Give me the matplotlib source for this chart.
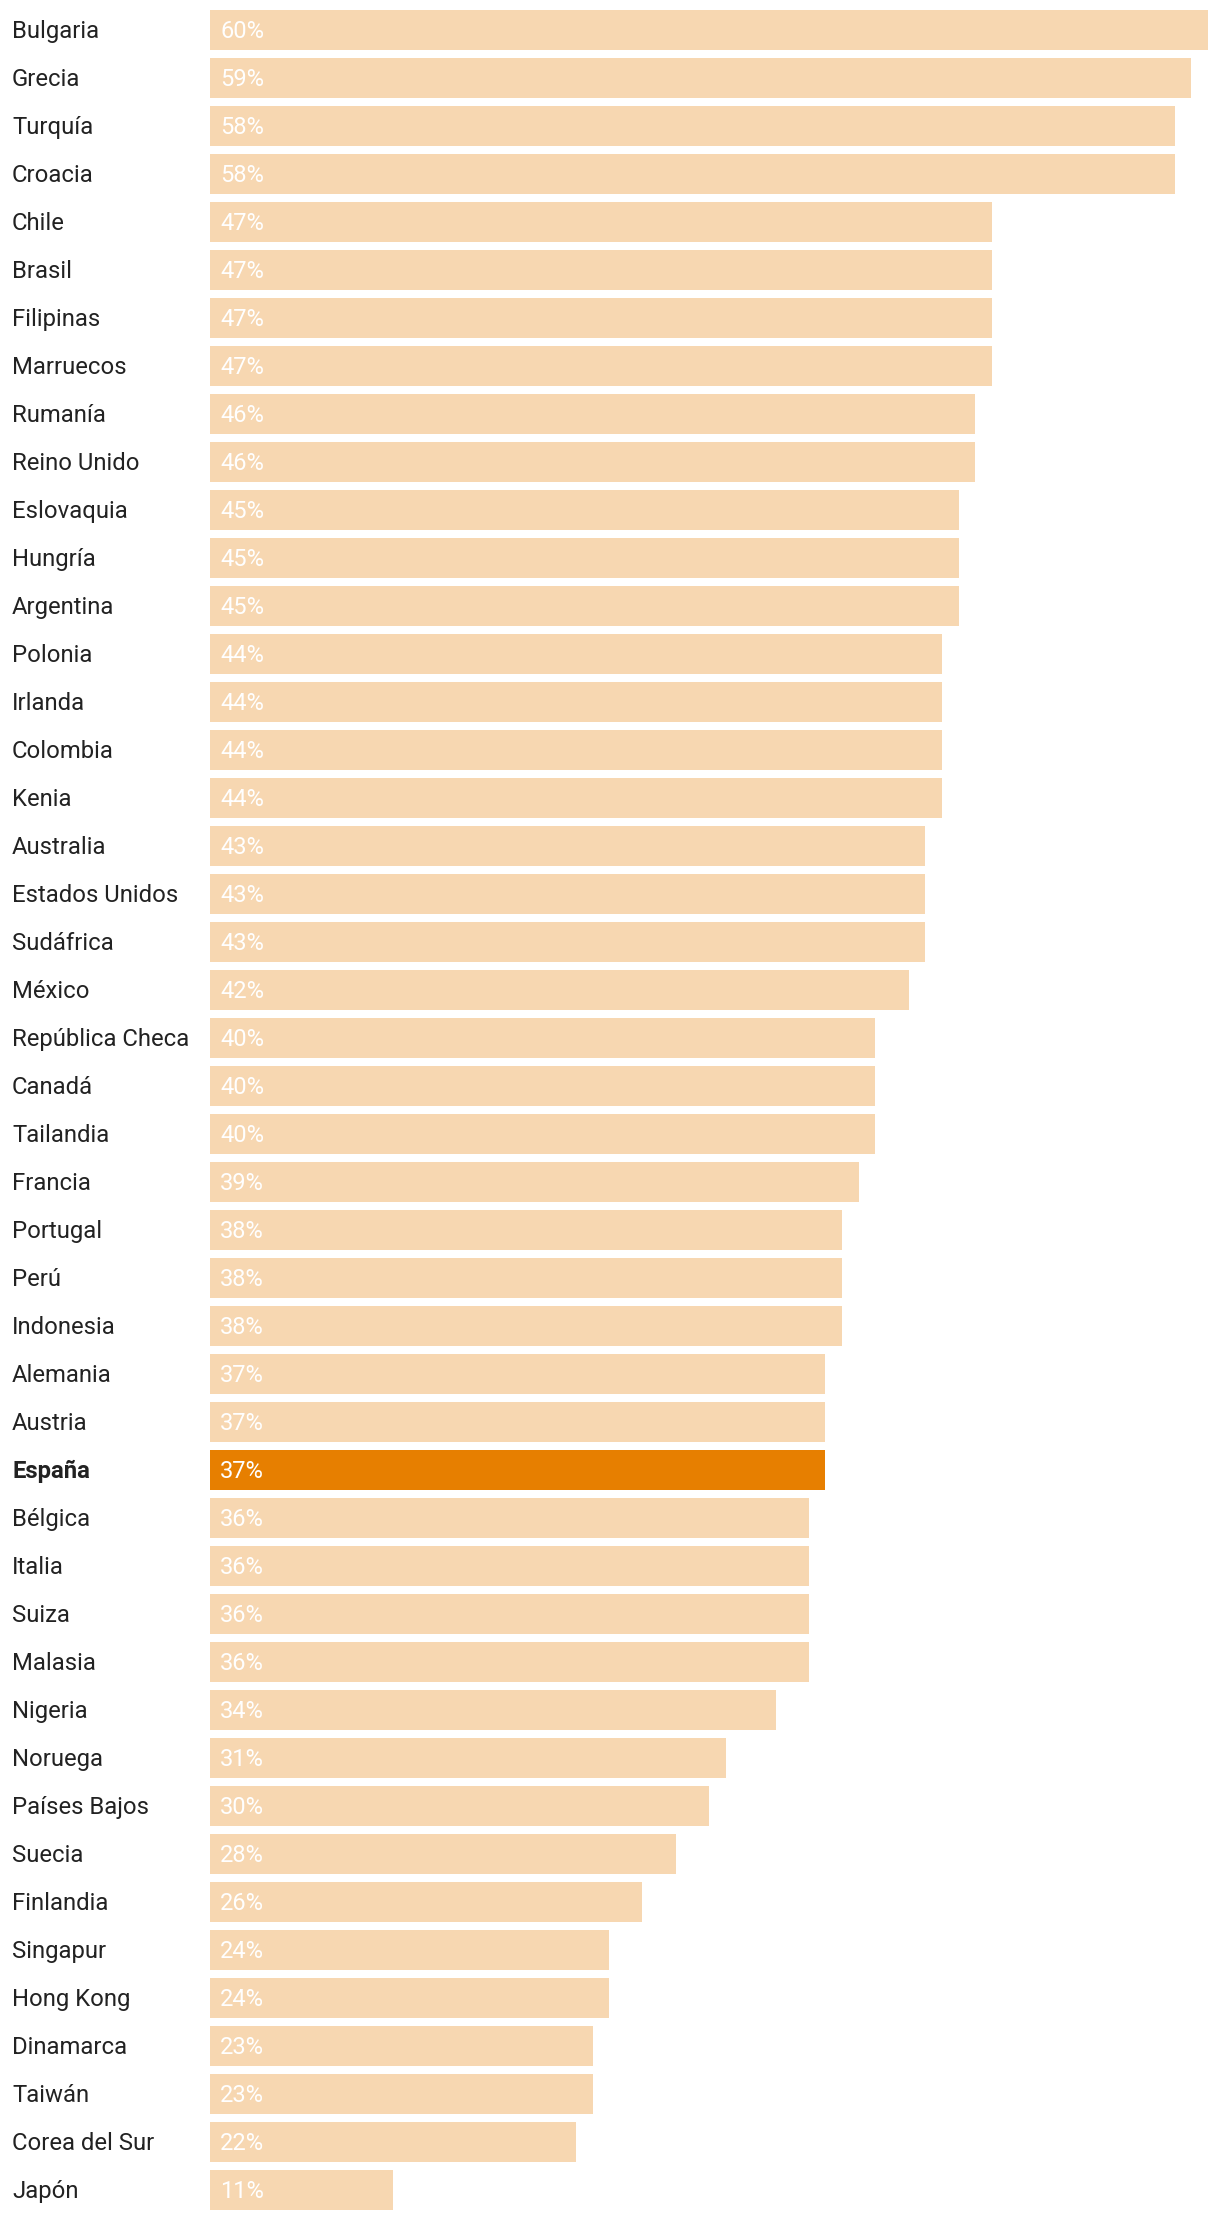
import matplotlib
matplotlib.use("Agg")
import matplotlib.pyplot as plt
import matplotlib.transforms as mtransforms

# Porcentajes por país, de mayor a menor
paises = ["Bulgaria", "Grecia", "Turquía", "Croacia", "Chile", "Brasil",
          "Filipinas", "Marruecos", "Rumanía", "Reino Unido", "Eslovaquia",
          "Hungría", "Argentina", "Polonia", "Irlanda", "Colombia", "Kenia",
          "Australia", "Estados Unidos", "Sudáfrica", "México",
          "República Checa", "Canadá", "Tailandia", "Francia", "Portugal",
          "Perú", "Indonesia", "Alemania", "Austria", "España", "Bélgica",
          "Italia", "Suiza", "Malasia", "Nigeria", "Noruega", "Países Bajos",
          "Suecia", "Finlandia", "Singapur", "Hong Kong", "Dinamarca",
          "Taiwán", "Corea del Sur", "Japón"]
valores = [60, 59, 58, 58, 47, 47, 47, 47, 46, 46, 45, 45, 45, 44, 44, 44, 44,
           43, 43, 43, 42, 40, 40, 40, 39, 38, 38, 38, 37, 37, 37, 36, 36, 36,
           36, 34, 31, 30, 28, 26, 24, 24, 23, 23, 22, 11]
destacado = "España"

plt.rcParams['font.family'] = ['Roboto', 'DejaVu Sans']

W, H = 1220, 2220
fig = plt.figure(figsize=(W / 100, H / 100), dpi=100)
left_px = 210
ax = fig.add_axes([left_px / W, 0, (W - left_px) / W, 1])

px_per_unit = 998 / 60
ax.set_xlim(0, (W - left_px) / px_per_unit)
ax.set_ylim((H - 30) / 48, -30 / 48)
ax.axis("off")

ys = list(range(len(paises)))
colores = ["#E77F00" if p == destacado else "#F7D7B1" for p in paises]
ax.barh(ys, valores, height=40 / 48, color=colores, left=0)

trans = mtransforms.blended_transform_factory(fig.transFigure, ax.transData)
for y, p, v in zip(ys, paises, valores):
    ax.text(12 / W, y + 0.03, p, transform=trans, ha="left", va="center",
            fontsize=17.2, color="#222222",
            fontweight="bold" if p == destacado else "normal")
    ax.text(10 / px_per_unit, y + 0.03, f"{v}%", ha="left", va="center",
            fontsize=17, color="white")

fig.savefig("out.png", dpi=100)
